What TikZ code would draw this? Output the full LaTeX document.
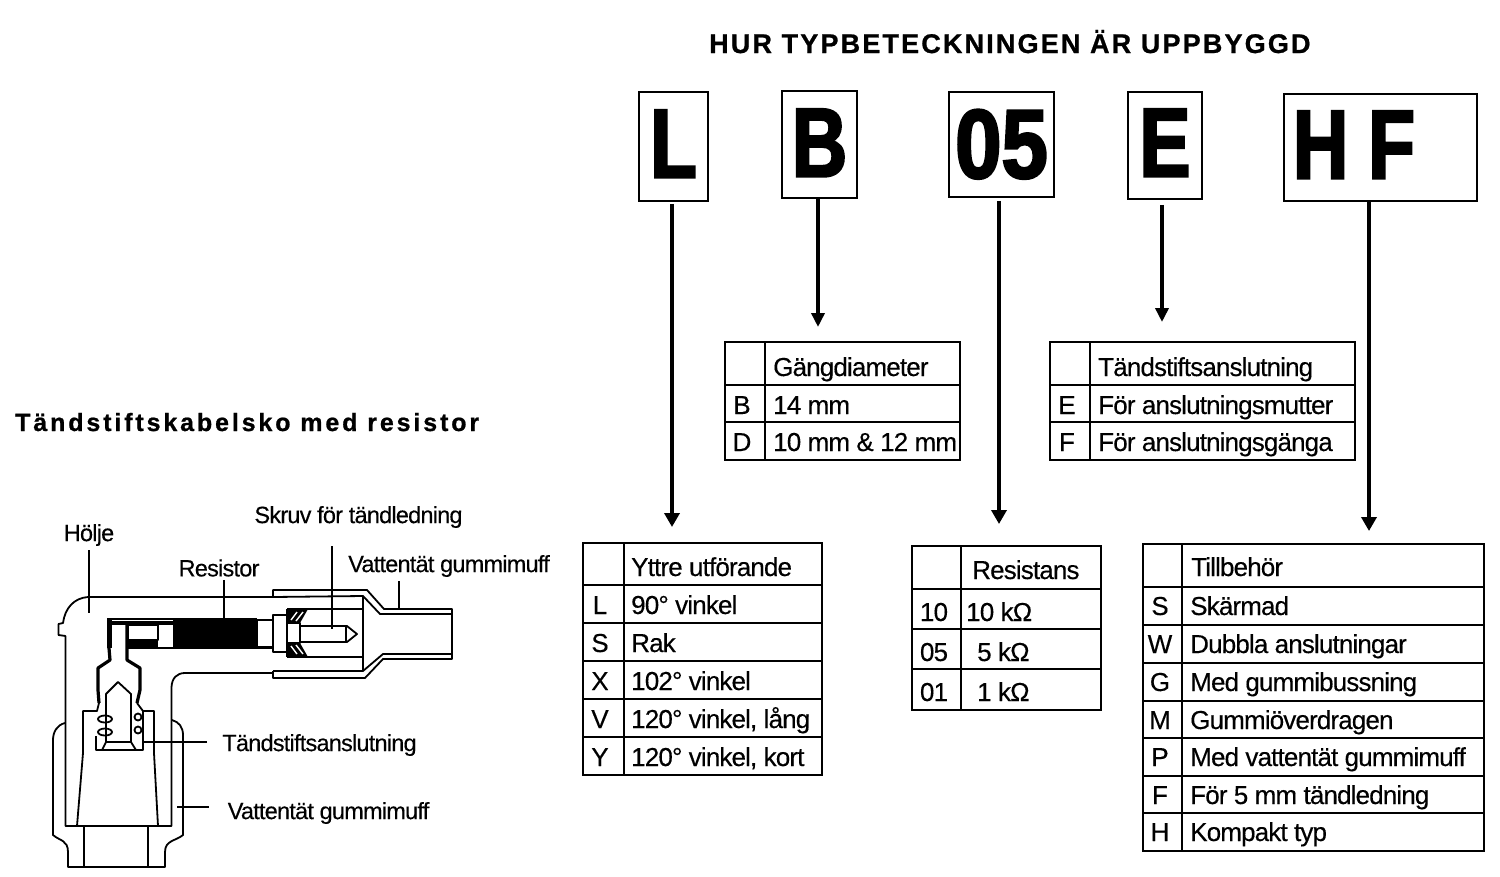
\documentclass[tikz,border=0pt]{standalone}
\usepackage{fontspec}
\setmainfont{Liberation Sans}
\newfontfamily\tblfont[LetterSpace=-3.3,FakeBold=0.3]{Liberation Sans}
\newfontfamily\keyfont[FakeStretch=0.78,BoldFeatures={FakeBold=2.5}]{Liberation Sans}
\newfontfamily\digitfont[FakeStretch=0.85,BoldFeatures={FakeBold=2.5}]{Liberation Sans}
\newfontfamily\headfont[LetterSpace=8,BoldFeatures={FakeBold=0.8}]{Liberation Sans}
\newfontfamily\sidefont[LetterSpace=11.5,BoldFeatures={FakeBold=0.8}]{Liberation Sans}
\usetikzlibrary{arrows.meta, positioning, calc}

\begin{document}
\begin{tikzpicture}[
    x=1pt, y=-1pt,
    keybox/.style={draw, line width=1.6pt, inner sep=0pt, align=center,
                   font=\fontsize{98}{98}\keyfont\bfseries, text height=70pt, text depth=8pt},
    tblbox/.style={draw, line width=1.7pt, inner sep=0pt},
    rowline/.style={line width=1.5pt},
    cell/.style={anchor=base west, inner sep=0pt, font=\fontsize{26}{26}\tblfont},
    keycell/.style={anchor=base, inner sep=0pt, font=\fontsize{26}{26}\tblfont},
    title/.style={anchor=base west, inner sep=0pt, font=\fontsize{27}{27}\headfont\bfseries},
    partlabel/.style={inner sep=0pt, font=\fontsize{23.5}{23.5}\tblfont},
    arr/.style={-{Triangle[length=14pt,width=15pt]}, line width=4.6pt},
    thinarr/.style={-{Triangle[length=14pt,width=13pt]}, line width=3.6pt},
    leader/.style={line width=1.6pt},
    part/.style={line width=1.8pt, line join=round},
    heavy/.style={line width=3.2pt, line join=round},
]
    \useasboundingbox (0,0) rectangle (1500,876);

    % Titles
    \node[title] (maintitle) at (709,53) {HUR TYPBETECKNINGEN ÄR UPPBYGGD};
    \node[title, font=\fontsize{25}{25}\sidefont\bfseries] (sidetitle) at (15,431) {Tändstiftskabelsko med resistor};

    % Nodes
    \node[keybox, minimum width=69pt, minimum height=109pt] (keyl) at (673.5,146.5) {L};
    \node[keybox, minimum width=75pt, minimum height=107pt, text depth=6pt] (keyb) at (819.5,144.5) {B};
    \node[keybox, minimum width=105pt, minimum height=105pt, text depth=3pt, font=\fontsize{98}{98}\digitfont\bfseries] (keyr) at (1001.5,144.5) {05};
    \node[keybox, minimum width=74pt, minimum height=107pt] (keye) at (1165,145.5) {E};
    \node[keybox, minimum height=107pt, inner xsep=9pt, text width=175pt, align=left] (keyhf) at (1380.5,147.5) {H\hspace{20pt}F};

    % Tables
    \node[tblbox, minimum width=235pt, minimum height=118pt] (diam) at (842.5,401) {};
    \node[tblbox, minimum width=305pt, minimum height=118pt] (conn) at (1202.5,401) {};
    \node[tblbox, minimum width=239pt, minimum height=232pt] (form) at (702.5,659) {};
    \node[tblbox, minimum width=189pt, minimum height=164pt] (resi) at (1006.5,628) {};
    \node[tblbox, minimum width=341pt, minimum height=307pt] (acc) at (1313.5,697.5) {};

    \draw[rowline] (765,342) -- (765,460);
    \node[cell] (diamhead) at (773,376) {Gängdiameter};
    \foreach \r/\k/\t in {423/B/{14 mm}, 460/D/{10 mm \& 12 mm}} {
        \draw[rowline] (725,\r-38) -- (960,\r-38);
        \node[keycell] (diam\k) at (742,\r-9) {\k};
        \node[cell] (diamt\k) at (773,\r-9) {\t};
    }

    \draw[rowline] (1090,342) -- (1090,460);
    \node[cell] (connhead) at (1098,376) {Tändstiftsanslutning};
    \foreach \r/\k/\t in {423/E/{För anslutningsmutter}, 460/F/{För anslutningsgänga}} {
        \draw[rowline] (1050,\r-38) -- (1355,\r-38);
        \node[keycell] (conn\k) at (1067,\r-9) {\k};
        \node[cell] (connt\k) at (1098,\r-9) {\t};
    }

    \draw[rowline] (624,543) -- (624,775);
    \node[cell] (formhead) at (631,576) {Yttre utförande};
    \foreach \r/\k/\t in {623/L/{90° vinkel}, 661/S/{Rak}, 699/X/{102° vinkel},
                          737/V/{120° vinkel, lång}, 775/Y/{120° vinkel, kort}} {
        \draw[rowline] (583,\r-38) -- (822,\r-38);
        \node[keycell] (form\k) at (600,\r-9) {\k};
        \node[cell] (formt\k) at (631,\r-9) {\t};
    }

    \draw[rowline] (961,546) -- (961,710);
    \node[cell] (resihead) at (972,579) {Resistans};
    \foreach \r/\k/\x/\t in {629/10/966/{10 kΩ}, 669/05/977/{5 kΩ}, 709/01/977/{1 kΩ}} {
        \draw[rowline] (912,\r-40) -- (1101,\r-40);
        \node[keycell] (resi\k) at (934,\r-8) {\k};
        \node[cell] (resit\k) at (\x,\r-8) {\t};
    }

    \draw[rowline] (1182,544) -- (1182,851);
    \node[cell] (acchead) at (1191,576) {Tillbehör};
    \foreach \r/\k/\t in {625/S/{Skärmad}, 663/W/{Dubbla anslutningar}, 701/G/{Med gummibussning},
                          739/M/{Gummiöverdragen}, 776/P/{Med vattentät gummimuff},
                          814/F/{För 5 mm tändledning}, 851/H/{Kompakt typ}} {
        \draw[rowline] (1143,\r-38) -- (1484,\r-38);
        \node[keycell] (acc\k) at (1160,\r-10) {\k};
        \node[cell] (acct\k) at (1190,\r-10) {\t};
    }

    % Arrows
    \coordinate (endl) at (672,527);
    \coordinate (endb) at (818,327);
    \coordinate (endr) at (999,524);
    \coordinate (ende) at (1162,322);
    \coordinate (endhf) at (1369,531);
    \draw[arr, shorten <=2pt] (keyl.south -| endl) -- (endl);
    \draw[thinarr] (keyb.south -| endb) -- (endb);
    \draw[arr, shorten <=3pt] (keyr.south -| endr) -- (endr);
    \draw[thinarr, shorten <=5pt] (keye.south -| ende) -- (ende);
    \draw[arr] (keyhf.south -| endhf) -- (endhf);

    % Cable shoe
    \draw[part] (273,597) -- (88,597) .. controls (74,598) and (65,608) .. (63,623)
        -- (58.5,624) -- (58.5,635) -- (65.5,636) -- (65.5,826) -- (171.5,826) -- (171.5,687)
        .. controls (172,678) and (177,673) .. (185,673) -- (273,673);
    \draw[part] (273,597) -- (363,596) -- (380,614) -- (452,614);
    \draw[part] (273,671) -- (363,671) -- (383,654) -- (452,654);
    \draw[part] (363,596) -- (363,671);
    \draw[part] (273,597) -- (273,590) -- (367,590) -- (384,609) -- (452,609) -- (452,659)
        -- (383,659) -- (365,678) -- (273,678) -- (273,671);

    % Resistor and screw
    \draw[part] (107,619) -- (257,619) (127,648) -- (273,648);
    \fill (173,618) rectangle (257,648);
    \draw[part] (257,620) rectangle (273,647);
    \draw[part] (273,615) rectangle (287,652);
    \draw[part] (287,609) -- (363,609) (287,657) -- (363,657);
    \draw[part] (287,609) -- (287,657);
    \fill (287,609) -- (308,609) -- (300,623) -- (287,623) -- cycle;
    \fill (287,657) -- (308,657) -- (300,643) -- (287,643) -- cycle;
    \draw[white, line width=1.4pt] (291,620) -- (297,612) (296,621) -- (303,612)
        (291,646) -- (297,654) (296,645) -- (303,654);
    \draw[part, fill=white] (287,623) rectangle (300,643);
    \draw[part] (300,626) -- (347,626) -- (357,634) -- (347,642) -- (300,642);
    \draw[part] (346,626) -- (346,642);
    \fill (107,619) rectangle (112,648);
    \fill (112,621) rectangle (173,625);
    \fill (127,640) rectangle (158,648);
    \draw[part, fill=white] (128,625) rectangle (158,640);
    \draw[heavy] (127,622) -- (127,660) -- (140,668) -- (140,690) -- (137,703);
    \draw[heavy] (109,648) -- (110,660) -- (98,668) -- (98,690) -- (99,703);

    % Terminal
    \draw[part] (99,703) -- (97,711) -- (83,711) -- (83,753) -- (77,826);
    \draw[part] (137,703) -- (143,711) -- (154,711) -- (154,753) -- (158,826);
    \draw[part] (118,682) -- (131,694) -- (131,742) -- (136,750) -- (102,750) -- (106,742) -- (106,694) -- cycle;
    \draw[part] (106,742) -- (131,742);
    \draw[part] (96,736) -- (96,750) -- (143,750) -- (143,711);
    \draw[part] (105,719) ellipse (7pt and 3.5pt) (105,732) ellipse (7pt and 3.5pt);
    \draw[part] (138,717) ellipse (3.5pt and 3.5pt) (138,730) ellipse (3.5pt and 3.5pt);

    % Boot
    \draw[part] (65,723) .. controls (57,725) and (53,732) .. (53,740) -- (53,835)
        .. controls (60,841) and (68,840) .. (68,852) -- (68,867) -- (165,867) -- (165,852)
        .. controls (165,840) and (176,841) .. (183,835) -- (183,735)
        .. controls (183,727) and (179,722) .. (172,720);
    \draw[part] (84,826) -- (84,867) (148,826) -- (148,867);

    % Labels
    \node[partlabel] (holje) at (89,535) {Hölje};
    \node[partlabel] (resistor) at (219,568) {Resistor};
    \node[partlabel] (skruv) at (358.5,517) {Skruv för tändledning};
    \node[partlabel] (mufftop) at (449,566) {Vattentät gummimuff};
    \node[partlabel] (tandlabel) at (319.5,745) {Tändstiftsanslutning};
    \node[partlabel] (muffside) at (328.5,813) {Vattentät gummimuff};

    \coordinate (holjeend) at (89,613);
    \coordinate (resistorend) at (224,618);
    \coordinate (skruvend) at (332,629);
    \coordinate (muffend) at (399,610);
    \coordinate (tandend) at (142,742);
    \coordinate (sideend) at (177,807);
    \draw[leader, shorten <=4pt] (holje.south -| holjeend) -- (holjeend);
    \draw[leader, shorten <=3pt] (resistor.south -| resistorend) -- (resistorend);
    \draw[leader, shorten <=18pt] (skruv.south -| skruvend) -- (skruvend);
    \draw[leader, shorten <=4pt] (mufftop.south -| muffend) -- (muffend);
    \draw[leader, shorten <=15pt] (tandlabel.west |- tandend) -- (tandend);
    \draw[leader, shorten <=19pt] (muffside.west |- sideend) -- (sideend);
\end{tikzpicture}
\end{document}
